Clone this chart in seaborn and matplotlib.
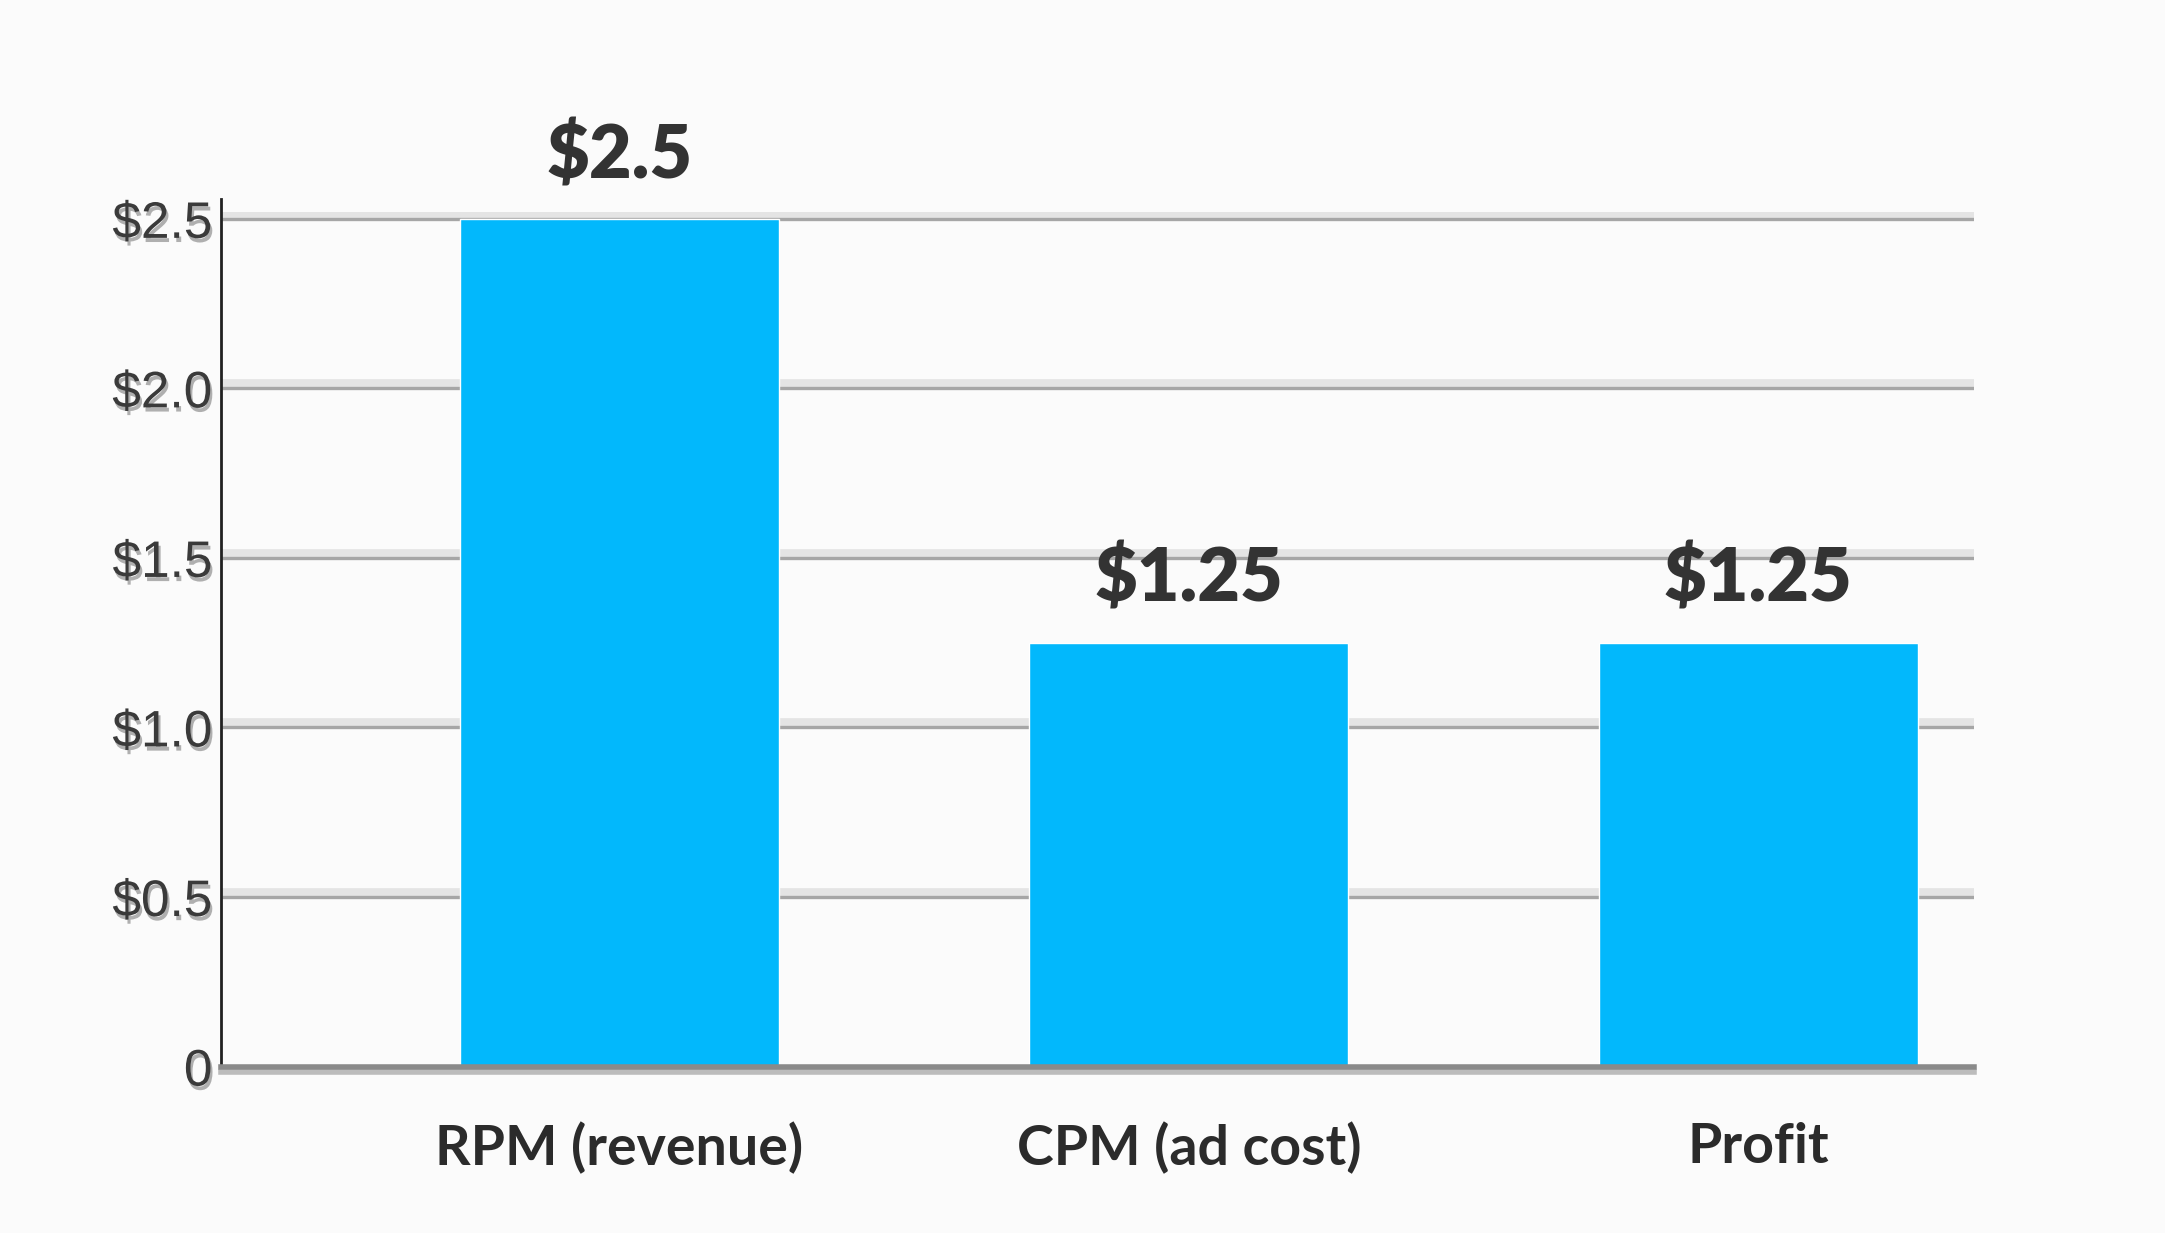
import matplotlib
matplotlib.use("Agg")
import matplotlib.pyplot as plt
import matplotlib.patheffects as pe
import seaborn as sns
import pandas as pd

# Data
categories = ["RPM (revenue)", "CPM (ad cost)", "Profit"]
values = [2.5, 1.25, 1.25]
value_labels = ["$2.5", "$1.25", "$1.25"]
ytick_values = [0, 0.5, 1.0, 1.5, 2.0, 2.5]
ytick_labels = ["0", "$0.5", "$1.0", "$1.5", "$2.0", "$2.5"]

df = pd.DataFrame({"metric": categories, "value": values})

sns.set_style("white")
plt.rcParams["font.family"] = ["Lato", "DejaVu Sans"]

fig = plt.figure(figsize=(21.65, 12.33), dpi=100)
fig.patch.set_facecolor("#fbfbfb")
ax = fig.add_axes([0.102, 0.135, 0.81, 0.693])
ax.set_facecolor("none")

sns.barplot(data=df, x="metric", y="value", color="#02b8fc", width=0.56,
            saturation=1, ax=ax, zorder=3)

ax.set_ylim(0, 2.52)
ax.set_xlim(-0.70, 2.38)

# grid lines with a soft highlight above
for v in ytick_values[1:]:
    ax.axhline(v + 0.012, color="#e4e4e4", lw=7, zorder=1)
    ax.axhline(v, color="#a6a6a6", lw=2.4, zorder=2)

ax.set_yticks(ytick_values)
ax.set_yticklabels(ytick_labels)
for t in ax.get_yticklabels():
    t.set_fontfamily(["Liberation Sans", "DejaVu Sans"])
    t.set_fontsize(37)
    t.set_color("#3a3a3a")
    t.set_path_effects([pe.withSimplePatchShadow(offset=(1.5, -3), shadow_rgbFace="#000000",
                                                 alpha=0.3)])
ax.tick_params(axis="y", length=0, pad=6)
ax.tick_params(axis="x", length=0, pad=40)
for t in ax.get_xticklabels():
    t.set_fontsize(40)
    t.set_fontweight("bold")
    t.set_color("#2b2b2b")

ax.set_xlabel("")
ax.set_ylabel("")

for side in ["top", "right"]:
    ax.spines[side].set_visible(False)
ax.spines["left"].set_color("#222222")
ax.spines["left"].set_linewidth(2)
ax.spines["left"].set_bounds(0, 2.56)
ax.spines["bottom"].set_color("#8a8a8a")
ax.spines["bottom"].set_linewidth(4)
ax.spines["bottom"].set_zorder(4)
ax.spines["bottom"].set_path_effects([pe.SimpleLineShadow(offset=(0, -4), alpha=0.25), pe.Normal()])

ax.bar_label(ax.containers[0], labels=value_labels, padding=20, fontsize=53,
             fontweight="heavy", color="#333333")

fig.savefig("out.png", dpi=100, facecolor=fig.get_facecolor())
